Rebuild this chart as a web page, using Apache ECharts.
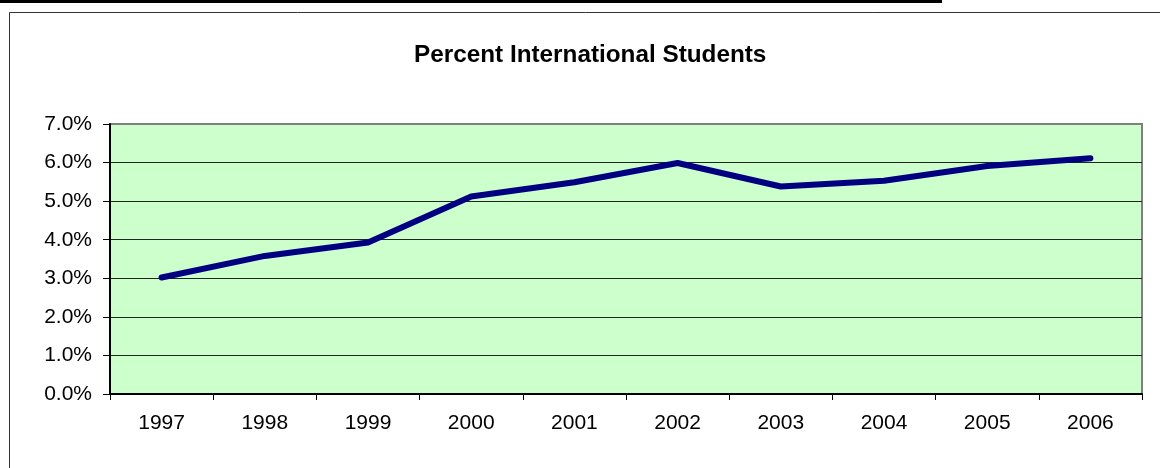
<!DOCTYPE html>
<html>
<head>
<meta charset="utf-8">
<script src="https://cdn.jsdelivr.net/npm/echarts@6/dist/echarts.min.js"></script>
<style>
html,body{margin:0;padding:0;background:#fff;}
#chart{width:1160px;height:468px;}
</style>
</head>
<body>
<div id="chart"></div>
<script>
const years = ['1997','1998','1999','2000','2001','2002','2003','2004','2005','2006'];
const pctInternational = [3.02, 3.58, 3.93, 5.12, 5.49, 5.99, 5.38, 5.53, 5.91, 6.11];
const titleText = 'Percent International Students';

const FONT = 'Arial, "Liberation Sans", sans-serif';
const chart = echarts.init(document.getElementById('chart'));
chart.setOption({
  animation: false,
  backgroundColor: '#fff',
  title: {
    text: titleText,
    left: 414,
    top: 43,
    padding: 0,
    textStyle: { fontFamily: FONT, fontSize: 24.3, fontWeight: 'bold', color: '#000', lineHeight: 24 }
  },
  graphic: [
    { type: 'rect', shape: { x: 0, y: 0, width: 942, height: 3 }, style: { fill: '#000' }, silent: true },
    { type: 'rect', shape: { x: 9.5, y: 12.5, width: 1200, height: 500 }, style: { fill: null, stroke: '#333', lineWidth: 1 }, silent: true }
  ],
  grid: {
    left: 110, right: 18, top: 124, bottom: 74,
    show: true, backgroundColor: '#CCFFCC', borderColor: '#808080', borderWidth: 2
  },
  xAxis: {
    type: 'category',
    data: years,
    boundaryGap: true,
    axisLine: { show: true, lineStyle: { color: '#000', width: 2 } },
    axisTick: { show: true, alignWithLabel: false, interval: 0, length: 6, lineStyle: { color: '#000', width: 1 } },
    axisLabel: { interval: 0, margin: 19, fontFamily: FONT, fontSize: 21, color: '#000' },
    splitLine: { show: false }
  },
  yAxis: {
    type: 'value',
    min: 0, max: 7, interval: 1,
    axisLine: { show: true, lineStyle: { color: '#000', width: 2 } },
    axisTick: { show: true, length: 7, lineStyle: { color: '#000', width: 1 } },
    axisLabel: { margin: 18, fontFamily: FONT, fontSize: 21, color: '#000', formatter: v => v.toFixed(1) + '%' },
    splitLine: { show: true, showMaxLine: false, showMinLine: false, lineStyle: { color: '#222', width: 1 } }
  },
  series: [{
    type: 'line',
    data: pctInternational,
    symbol: 'none',
    lineStyle: { color: '#000080', width: 6, cap: 'round', join: 'round' },
    z: 5
  }]
});
</script>
</body>
</html>
